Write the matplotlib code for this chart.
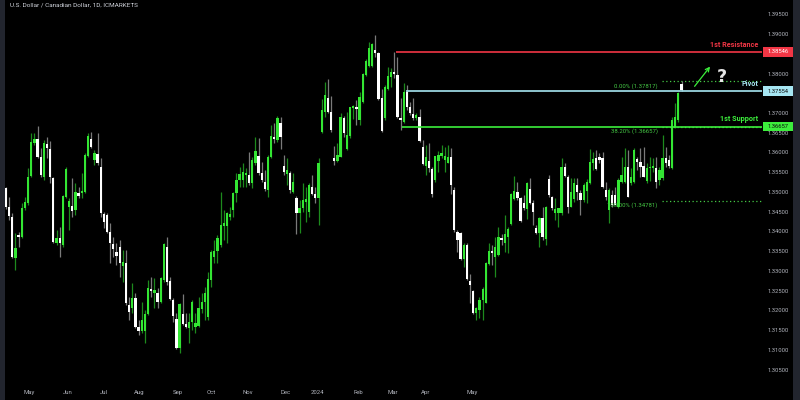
import numpy as np
import matplotlib.pyplot as plt
import matplotlib.transforms as mtransforms
from matplotlib.patches import Rectangle

# daily USDCAD candles (open, high, low, close)
opens = [1.3510, 1.3462, 1.3437, 1.3333, 1.3391, 1.3386, 1.3460, 1.3472, 1.3540, 1.3624,
         1.3634, 1.3589, 1.3538, 1.3621, 1.3609, 1.3535, 1.3371, 1.3384, 1.3366, 1.3487,
         1.3462, 1.3465, 1.3454, 1.3497, 1.3497, 1.3500, 1.3591, 1.3634, 1.3581, 1.3596,
         1.3563, 1.3444, 1.3442, 1.3399, 1.3368, 1.3348, 1.3361, 1.3313, 1.3320, 1.3214,
         1.3206, 1.3232, 1.3158, 1.3148, 1.3148, 1.3191, 1.3254, 1.3244, 1.3244, 1.3221,
         1.3277, 1.3361, 1.3275, 1.3227, 1.3178, 1.3105, 1.3191, 1.3166, 1.3156, 1.3171,
         1.3158, 1.3161, 1.3204, 1.3221, 1.3183, 1.3277, 1.3335, 1.3351, 1.3366, 1.3414,
         1.3414, 1.3437, 1.3454, 1.3497, 1.3530, 1.3530, 1.3543, 1.3543, 1.3523, 1.3573,
         1.3591, 1.3548, 1.3525, 1.3505, 1.3589, 1.3639, 1.3632, 1.3675, 1.3566, 1.3546,
         1.3548, 1.3500, 1.3485, 1.3447, 1.3460, 1.3475, 1.3449, 1.3513, 1.3495, 1.3485,
         1.3652, 1.3703, 1.3738, 1.3703, 1.3586, 1.3578, 1.3589, 1.3687, 1.3609, 1.3642,
         1.3713, 1.3715, 1.3682, 1.3728, 1.3796, 1.3819, 1.3819, 1.3860, 1.3852, 1.3738,
         1.3687, 1.3761, 1.3791, 1.3804, 1.3796, 1.3687, 1.3677, 1.3753, 1.3715, 1.3697,
         1.3687, 1.3690, 1.3614, 1.3566, 1.3578, 1.3558, 1.3530, 1.3578, 1.3591, 1.3581,
         1.3573, 1.3589, 1.3505, 1.3399, 1.3396, 1.3330, 1.3366, 1.3275, 1.3249, 1.3194,
         1.3201, 1.3227, 1.3219, 1.3318, 1.3351, 1.3335, 1.3340, 1.3384, 1.3371, 1.3386,
         1.3419, 1.3482, 1.3500, 1.3485, 1.3472, 1.3457, 1.3508, 1.3472, 1.3409, 1.3396,
         1.3434, 1.3381, 1.3533, 1.3487, 1.3447, 1.3447, 1.3447, 1.3563, 1.3538, 1.3462,
         1.3482, 1.3518, 1.3497, 1.3480, 1.3502, 1.3523, 1.3573, 1.3586, 1.3589, 1.3586,
         1.3505, 1.3454, 1.3492, 1.3492, 1.3462, 1.3525, 1.3525, 1.3563, 1.3523, 1.3525,
         1.3584, 1.3576, 1.3566, 1.3528, 1.3561, 1.3561, 1.3561, 1.3530, 1.3535, 1.3586,
         1.3581, 1.3561, 1.3665, 1.3682, 1.3774]
highs = [1.3513, 1.3487, 1.3447, 1.3396, 1.3399, 1.3472, 1.3487, 1.3561, 1.3649, 1.3649,
         1.3667, 1.3611, 1.3632, 1.3639, 1.3629, 1.3538, 1.3404, 1.3411, 1.3492, 1.3563,
         1.3485, 1.3535, 1.3523, 1.3513, 1.3548, 1.3599, 1.3649, 1.3652, 1.3606, 1.3649,
         1.3586, 1.3449, 1.3447, 1.3421, 1.3386, 1.3371, 1.3378, 1.3353, 1.3353, 1.3234,
         1.3270, 1.3244, 1.3176, 1.3221, 1.3201, 1.3277, 1.3285, 1.3282, 1.3257, 1.3285,
         1.3371, 1.3386, 1.3285, 1.3232, 1.3194, 1.3219, 1.3242, 1.3194, 1.3194, 1.3227,
         1.3194, 1.3234, 1.3244, 1.3259, 1.3297, 1.3353, 1.3378, 1.3391, 1.3500, 1.3454,
         1.3449, 1.3462, 1.3500, 1.3548, 1.3563, 1.3573, 1.3561, 1.3601, 1.3589, 1.3639,
         1.3637, 1.3576, 1.3556, 1.3594, 1.3670, 1.3675, 1.3692, 1.3690, 1.3594, 1.3586,
         1.3553, 1.3548, 1.3490, 1.3480, 1.3523, 1.3513, 1.3523, 1.3543, 1.3513, 1.3586,
         1.3735, 1.3778, 1.3786, 1.3743, 1.3617, 1.3624, 1.3700, 1.3692, 1.3703, 1.3715,
         1.3720, 1.3733, 1.3753, 1.3801, 1.3837, 1.3880, 1.3877, 1.3898, 1.3855, 1.3761,
         1.3771, 1.3817, 1.3814, 1.3855, 1.3842, 1.3738, 1.3776, 1.3771, 1.3728, 1.3738,
         1.3700, 1.3710, 1.3632, 1.3619, 1.3624, 1.3563, 1.3591, 1.3604, 1.3619, 1.3614,
         1.3619, 1.3611, 1.3513, 1.3404, 1.3399, 1.3371, 1.3371, 1.3292, 1.3252, 1.3209,
         1.3234, 1.3259, 1.3323, 1.3371, 1.3366, 1.3386, 1.3411, 1.3394, 1.3442, 1.3411,
         1.3497, 1.3540, 1.3525, 1.3487, 1.3492, 1.3525, 1.3535, 1.3480, 1.3416, 1.3437,
         1.3462, 1.3465, 1.3543, 1.3490, 1.3485, 1.3460, 1.3586, 1.3573, 1.3543, 1.3535,
         1.3535, 1.3535, 1.3505, 1.3523, 1.3533, 1.3609, 1.3601, 1.3606, 1.3599, 1.3601,
         1.3525, 1.3510, 1.3505, 1.3513, 1.3535, 1.3589, 1.3611, 1.3606, 1.3561, 1.3611,
         1.3589, 1.3611, 1.3614, 1.3573, 1.3589, 1.3586, 1.3589, 1.3563, 1.3644, 1.3614,
         1.3594, 1.3690, 1.3725, 1.3753, 1.3782]
lows = [1.3457, 1.3429, 1.3333, 1.3302, 1.3361, 1.3384, 1.3454, 1.3467, 1.3538, 1.3619,
        1.3586, 1.3538, 1.3530, 1.3586, 1.3523, 1.3371, 1.3366, 1.3335, 1.3361, 1.3485,
        1.3404, 1.3437, 1.3442, 1.3485, 1.3485, 1.3497, 1.3589, 1.3611, 1.3568, 1.3568,
        1.3437, 1.3409, 1.3396, 1.3320, 1.3335, 1.3315, 1.3285, 1.3272, 1.3214, 1.3176,
        1.3194, 1.3156, 1.3138, 1.3143, 1.3118, 1.3189, 1.3234, 1.3206, 1.3206, 1.3219,
        1.3272, 1.3264, 1.3227, 1.3171, 1.3102, 1.3092, 1.3163, 1.3156, 1.3118, 1.3151,
        1.3143, 1.3158, 1.3194, 1.3176, 1.3176, 1.3259, 1.3320, 1.3320, 1.3361, 1.3378,
        1.3371, 1.3429, 1.3437, 1.3475, 1.3513, 1.3513, 1.3513, 1.3518, 1.3510, 1.3568,
        1.3543, 1.3525, 1.3502, 1.3487, 1.3586, 1.3624, 1.3627, 1.3609, 1.3543, 1.3518,
        1.3497, 1.3497, 1.3394, 1.3396, 1.3449, 1.3424, 1.3437, 1.3492, 1.3472, 1.3416,
        1.3649, 1.3690, 1.3700, 1.3652, 1.3568, 1.3576, 1.3589, 1.3639, 1.3606, 1.3637,
        1.3685, 1.3670, 1.3670, 1.3725, 1.3794, 1.3817, 1.3817, 1.3842, 1.3733, 1.3652,
        1.3682, 1.3758, 1.3766, 1.3789, 1.3687, 1.3657, 1.3675, 1.3708, 1.3695, 1.3682,
        1.3682, 1.3627, 1.3568, 1.3543, 1.3551, 1.3487, 1.3525, 1.3551, 1.3586, 1.3551,
        1.3573, 1.3495, 1.3399, 1.3348, 1.3328, 1.3310, 1.3277, 1.3219, 1.3191, 1.3176,
        1.3181, 1.3176, 1.3219, 1.3315, 1.3315, 1.3285, 1.3338, 1.3366, 1.3348, 1.3346,
        1.3416, 1.3480, 1.3480, 1.3424, 1.3454, 1.3432, 1.3470, 1.3416, 1.3394, 1.3361,
        1.3378, 1.3366, 1.3487, 1.3454, 1.3429, 1.3411, 1.3442, 1.3538, 1.3447, 1.3462,
        1.3475, 1.3480, 1.3442, 1.3475, 1.3472, 1.3520, 1.3556, 1.3556, 1.3573, 1.3510,
        1.3480, 1.3421, 1.3462, 1.3467, 1.3460, 1.3523, 1.3523, 1.3487, 1.3518, 1.3523,
        1.3556, 1.3538, 1.3538, 1.3523, 1.3528, 1.3551, 1.3510, 1.3518, 1.3530, 1.3563,
        1.3561, 1.3558, 1.3662, 1.3677, 1.3756]
closes = [1.3462, 1.3439, 1.3335, 1.3358, 1.3386, 1.3460, 1.3475, 1.3538, 1.3627, 1.3634,
          1.3589, 1.3543, 1.3624, 1.3611, 1.3538, 1.3373, 1.3384, 1.3371, 1.3490, 1.3558,
          1.3477, 1.3452, 1.3500, 1.3490, 1.3502, 1.3594, 1.3642, 1.3614, 1.3599, 1.3573,
          1.3447, 1.3424, 1.3399, 1.3371, 1.3356, 1.3338, 1.3320, 1.3323, 1.3219, 1.3196,
          1.3232, 1.3158, 1.3148, 1.3176, 1.3191, 1.3257, 1.3249, 1.3252, 1.3221, 1.3282,
          1.3368, 1.3272, 1.3229, 1.3186, 1.3105, 1.3216, 1.3166, 1.3158, 1.3171, 1.3221,
          1.3168, 1.3206, 1.3221, 1.3244, 1.3280, 1.3348, 1.3351, 1.3384, 1.3416, 1.3421,
          1.3447, 1.3444, 1.3497, 1.3530, 1.3546, 1.3551, 1.3548, 1.3523, 1.3581, 1.3604,
          1.3548, 1.3530, 1.3508, 1.3589, 1.3642, 1.3634, 1.3687, 1.3639, 1.3551, 1.3556,
          1.3505, 1.3525, 1.3447, 1.3460, 1.3480, 1.3482, 1.3518, 1.3495, 1.3485, 1.3573,
          1.3708, 1.3746, 1.3703, 1.3657, 1.3578, 1.3594, 1.3690, 1.3649, 1.3644, 1.3715,
          1.3718, 1.3710, 1.3740, 1.3799, 1.3832, 1.3865, 1.3875, 1.3852, 1.3735, 1.3654,
          1.3766, 1.3794, 1.3804, 1.3799, 1.3690, 1.3682, 1.3753, 1.3715, 1.3700, 1.3687,
          1.3695, 1.3629, 1.3571, 1.3589, 1.3561, 1.3495, 1.3591, 1.3594, 1.3599, 1.3591,
          1.3589, 1.3518, 1.3404, 1.3378, 1.3330, 1.3366, 1.3280, 1.3264, 1.3194, 1.3206,
          1.3227, 1.3254, 1.3320, 1.3351, 1.3346, 1.3361, 1.3386, 1.3378, 1.3394, 1.3406,
          1.3495, 1.3502, 1.3485, 1.3426, 1.3460, 1.3523, 1.3472, 1.3449, 1.3396, 1.3434,
          1.3386, 1.3462, 1.3492, 1.3460, 1.3457, 1.3460, 1.3563, 1.3540, 1.3462, 1.3500,
          1.3523, 1.3500, 1.3480, 1.3518, 1.3525, 1.3576, 1.3584, 1.3558, 1.3581, 1.3513,
          1.3487, 1.3505, 1.3467, 1.3467, 1.3530, 1.3543, 1.3563, 1.3487, 1.3538, 1.3606,
          1.3576, 1.3563, 1.3538, 1.3561, 1.3563, 1.3566, 1.3525, 1.3556, 1.3586, 1.3573,
          1.3566, 1.3682, 1.3690, 1.3751, 1.3758]

month_labels = ['May', 'Jun', 'Jul', 'Aug', 'Sep', 'Oct', 'Nov', 'Dec', '2024',
                'Feb', 'Mar', 'Apr', 'May']
month_pos = [7.3, 19.6, 31.0, 42.1, 54.5, 64.9, 76.7, 88.7, 98.8, 111.5, 122.6, 133.0, 147.6]

# price scale; 1.385 and 1.375 sit under the level tags so they get no label
price_ticks = [1.305, 1.310, 1.315, 1.320, 1.325, 1.330, 1.335, 1.340, 1.345, 1.350,
               1.355, 1.360, 1.365, 1.370, 1.375, 1.380, 1.385, 1.390, 1.395]
hidden_ticks = [1.375, 1.385]

# drawn levels
resistance = 1.38546
pivot = 1.37554
support = 1.36657
fib_levels = [1.37817, 1.36657, 1.34781]
fib_names = ['0.00%', '38.20%', '100.00%']

BG = '#000000'
UP = '#33e633'
UP_WICK = '#1d8a1d'
DOWN = '#ffffff'
DOWN_WICK = '#7a7a7a'
AXIS_TXT = '#b2b5be'
RED = '#f23645'
CYAN = '#a6e6f2'
GREEN = '#3cee3c'
FIB = '#45c845'


def draw_candles(ax):
    o = np.array(opens)
    h = np.array(highs)
    l = np.array(lows)
    c = np.array(closes)
    x = np.arange(len(o))
    up = c >= o
    ax.vlines(x[up], l[up], h[up], color=UP_WICK, lw=0.9, zorder=2)
    ax.vlines(x[~up], l[~up], h[~up], color=DOWN_WICK, lw=0.9, zorder=2)
    body = np.maximum(np.abs(c - o), 0.0003)
    bottom = np.minimum(o, c)
    ax.bar(x[up], body[up], bottom=bottom[up], width=0.72, color=UP, lw=0, zorder=3)
    ax.bar(x[~up], body[~up], bottom=bottom[~up], width=0.72, color=DOWN, lw=0, zorder=3)


def price_tag(ax, price, text, face, txt_color):
    trans = mtransforms.blended_transform_factory(ax.transAxes, ax.transData)
    ax.add_patch(Rectangle((1.0013, price - 0.00125), 0.0396, 0.0025, transform=trans,
                           facecolor=face, edgecolor='none', clip_on=False, zorder=6))
    ax.text(1.021, price, text, transform=trans, ha='center', va='center',
            fontsize=4.2, color=txt_color, family='Roboto', clip_on=False, zorder=7)


fig = plt.figure(figsize=(8, 4), dpi=100, facecolor=BG)
ax = fig.add_axes([5 / 800, 18 / 400, 757 / 800, 382 / 400], facecolor=BG)
ax.set_xlim(-0.32, 239.5)
ax.set_ylim(1.30189, 1.39861)

draw_candles(ax)

# horizontal levels
ax.hlines(resistance, 123.5, 239.5, color=RED, lw=1.2, zorder=4)
ax.hlines(pivot, 126.7, 239.5, color=CYAN, lw=1.2, zorder=4)
ax.hlines(support, 125.4, 239.5, color=GREEN, lw=1.2, zorder=4)
for lev in fib_levels:
    ax.hlines(lev, 207.8, 239.5, color=FIB, lw=0.9, linestyles=(0, (1, 2)), zorder=1)
for lev, name in zip(fib_levels, fib_names):
    ax.annotate(f'{name} ({lev:.5f})', xy=(206.5, lev), xytext=(0, -1.5),
                textcoords='offset points', ha='right', va='top',
                fontsize=4.3, color=FIB, family='Roboto', zorder=5)

# level names
for lev, name, col in [(resistance, '1st Resistance', RED), (pivot, 'Pivot', CYAN),
                       (support, '1st Support', GREEN)]:
    ax.annotate(name, xy=(238.3, lev), xytext=(0, 2.2), textcoords='offset points',
                ha='right', va='bottom', fontsize=5.2, color=col, fontweight='bold',
                family='Roboto', zorder=5)

# projected move and the question mark
ax.annotate('', xy=(223.6, 1.3823), xytext=(217.6, 1.3762),
            arrowprops=dict(arrowstyle='->', color=GREEN, lw=0.9, mutation_scale=7))
ax.text(226.8, 1.3790, '?', fontsize=12.5, fontweight='bold', color='#e6e6e6',
        ha='center', va='center', family='DejaVu Sans')

# price axis
ax.yaxis.tick_right()
ax.set_yticks(price_ticks)
ax.set_yticklabels(['' if any(abs(v - h) < 1e-9 for h in hidden_ticks) else f'{v:.5f}'
                    for v in price_ticks])
ax.tick_params(axis='y', length=0, pad=4.3, labelsize=4.2, labelcolor=AXIS_TXT)
for t in ax.get_yticklabels():
    t.set_family('Roboto')

price_tag(ax, resistance, f'{resistance:.5f}', RED, '#ffffff')
price_tag(ax, pivot, f'{pivot:.5f}', CYAN, '#0b0b0b')
price_tag(ax, support, f'{support:.5f}', GREEN, '#0b0b0b')

# time axis
ax.set_xticks(month_pos)
ax.set_xticklabels(month_labels)
ax.tick_params(axis='x', length=0, pad=6, labelsize=4.3, labelcolor=AXIS_TXT)
for t in ax.get_xticklabels():
    t.set_family('Roboto')

for s in ax.spines.values():
    s.set_visible(False)

fig.text(10 / 800, 1 - 5 / 400, 'U.S. Dollar / Canadian Dollar, 1D, ICMARKETS',
         fontsize=4.6, color='#d1d4dc', ha='left', va='center', family='Roboto')

# dark frame strips at the sides
fig.patches.append(Rectangle((0, 0), 5 / 800, 1, transform=fig.transFigure,
                             facecolor='#22252e', edgecolor='none'))
fig.patches.append(Rectangle((793 / 800, 0), 7 / 800, 1, transform=fig.transFigure,
                             facecolor='#22252e', edgecolor='none'))

fig.savefig('out.png', dpi=100, facecolor=BG)
